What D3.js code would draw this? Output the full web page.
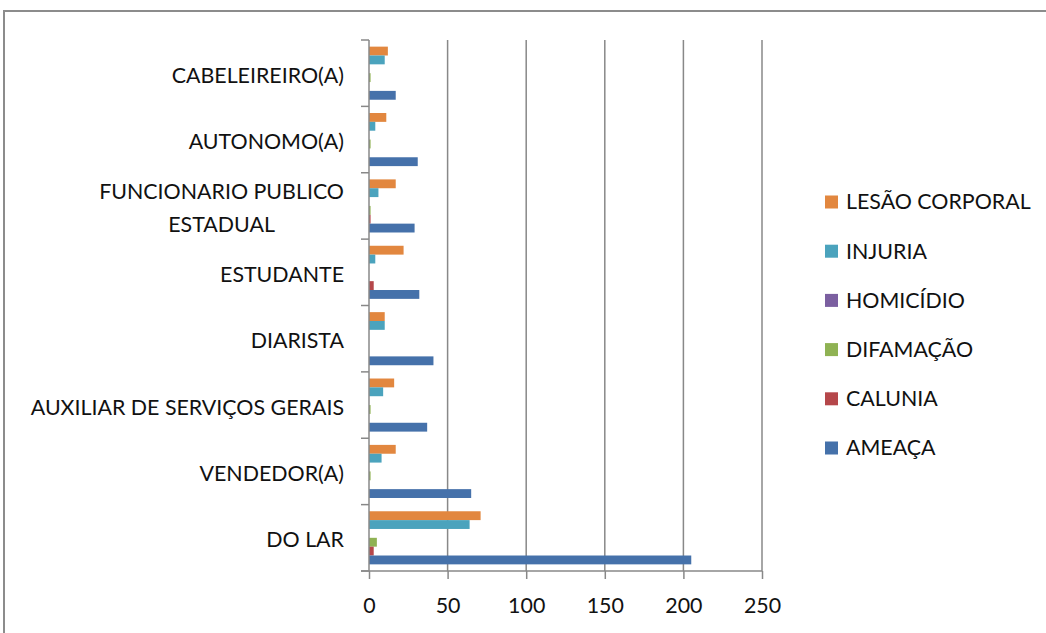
<!DOCTYPE html>
<html>
<head>
<meta charset="utf-8">
<script src="https://cdn.jsdelivr.net/npm/d3@7"></script>
<style>
  html, body { margin: 0; padding: 0; background: #fff; }
  svg text { font-family: Lato, "Open Sans", sans-serif; fill: #111; }
</style>
</head>
<body>
<svg id="chart" width="1046" height="633"></svg>
<script>
// Occupations, listed top to bottom
const categories = [
  "CABELEIREIRO(A)",
  "AUTONOMO(A)",
  "FUNCIONARIO PUBLICO\nESTADUAL",
  "ESTUDANTE",
  "DIARISTA",
  "AUXILIAR DE SERVIÇOS GERAIS",
  "VENDEDOR(A)",
  "DO LAR"
];

// Series names, in legend order (top to bottom)
const seriesNames = ["LESÃO CORPORAL", "INJURIA", "HOMICÍDIO", "DIFAMAÇÃO", "CALUNIA", "AMEAÇA"];

// Counts per occupation, same order as categories
const lesaoCorporal = [12, 11, 17, 22, 10, 16, 17, 71];
const injuria       = [10, 4, 6, 4, 10, 9, 8, 64];
const homicidio     = [0, 0, 0, 0, 0, 0, 0, 0];
const difamacao     = [1, 1, 1, 0, 0, 1, 1, 5];
const calunia       = [0, 0, 1, 3, 0, 0, 0, 3];
const ameaca        = [17, 31, 29, 32, 41, 37, 65, 205];

const xTicks = [0, 50, 100, 150, 200, 250];

const seriesValues = [lesaoCorporal, injuria, homicidio, difamacao, calunia, ameaca];
const colors = ["#E2873F", "#4BA3BD", "#7B5FA0", "#8FB253", "#B5474A", "#4571AA"];

const svg = d3.select("#chart");
const FONT = 21.4;

// outer frame (left and top edges)
svg.append("path")
  .attr("d", "M4,633 V11 H1046")
  .attr("fill", "none")
  .attr("stroke", "#8c8c8c")
  .attr("stroke-width", 2);

const plot = { left: 369, right: 762, top: 40, bottom: 571 };

const x = d3.scaleLinear().domain([0, 250]).range([plot.left, plot.right]);
const y = d3.scaleBand().domain(categories).range([plot.top, plot.bottom]).padding(0);
const ySub = d3.scaleBand().domain(seriesNames).range([0, y.bandwidth()])
  .paddingInner(0).paddingOuter(0.75);

const gridColor = "#888888";

// vertical gridlines
svg.append("g").selectAll("line")
  .data(xTicks.slice(1))
  .join("line")
  .attr("x1", d => x(d)).attr("x2", d => x(d))
  .attr("y1", plot.top).attr("y2", plot.bottom)
  .attr("stroke", gridColor).attr("stroke-width", 1.5);

// bars
const rows = [];
categories.forEach((c, i) => {
  seriesNames.forEach((s, j) => {
    rows.push({ cat: c, series: s, value: seriesValues[j][i], color: colors[j] });
  });
});

svg.append("g").selectAll("rect")
  .data(rows.filter(d => d.value > 0))
  .join("rect")
  .attr("x", x(0))
  .attr("y", d => y(d.cat) + ySub(d.series))
  .attr("width", d => x(d.value) - x(0))
  .attr("height", ySub.bandwidth())
  .attr("fill", d => d.color);

// x axis
const xAxis = svg.append("g")
  .attr("transform", `translate(0,${plot.bottom})`)
  .call(d3.axisBottom(x).tickValues(xTicks).tickSize(8).tickSizeOuter(0));
xAxis.select(".domain").attr("stroke", gridColor).attr("stroke-width", 1.5)
  .attr("d", `M${plot.left - 8},0H${plot.right}`);
xAxis.selectAll(".tick line").attr("stroke", gridColor).attr("stroke-width", 1.5);
xAxis.selectAll(".tick text")
  .attr("y", 35).attr("dy", "0.35em")
  .style("font-family", "Lato, 'Open Sans', sans-serif")
  .style("font-size", FONT + "px")
  .attr("fill", "#111");

// y axis line and boundary ticks
svg.append("line")
  .attr("x1", plot.left).attr("x2", plot.left)
  .attr("y1", plot.top).attr("y2", plot.bottom)
  .attr("stroke", gridColor).attr("stroke-width", 1.5);

const boundaries = categories.map(c => y(c)).concat([plot.bottom]);
svg.append("g").selectAll("line")
  .data(boundaries)
  .join("line")
  .attr("x1", plot.left - 8).attr("x2", plot.left)
  .attr("y1", d => d).attr("y2", d => d)
  .attr("stroke", gridColor).attr("stroke-width", 1.5);

// category labels, right-aligned block, lines centered on each other
const labelRight = 344;
const lineGap = 33;
const labels = svg.append("g");
categories.forEach(c => {
  const lines = c.split("\n");
  const cy = y(c) + y.bandwidth() / 2 + 2;
  const texts = lines.map((ln, k) => labels.append("text")
    .attr("y", cy + (k - (lines.length - 1) / 2) * lineGap)
    .attr("dy", "0.35em")
    .style("font-size", FONT + "px")
    .text(ln));
  const maxW = d3.max(texts, t => t.node().getComputedTextLength());
  texts.forEach(t => t.attr("x", labelRight - maxW / 2).attr("text-anchor", "middle"));
});

// legend
const legend = svg.append("g");
const legendTop = 202, legendStep = 49.2;
seriesNames.forEach((s, j) => {
  const cy = legendTop + j * legendStep;
  legend.append("rect")
    .attr("x", 825).attr("y", cy - 6.5)
    .attr("width", 13).attr("height", 13)
    .attr("fill", colors[j]);
  legend.append("text")
    .attr("x", 846).attr("y", cy)
    .attr("dy", "0.35em")
    .style("font-size", FONT + "px")
    .text(s);
});
</script>
</body>
</html>
